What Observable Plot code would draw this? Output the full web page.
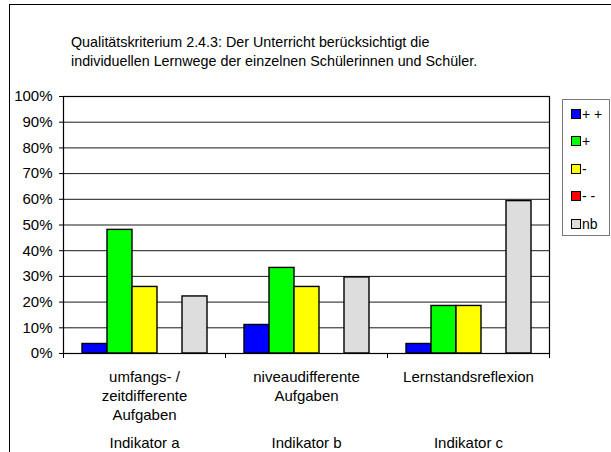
<!DOCTYPE html>
<html>
<head>
<meta charset="utf-8">
<script src="https://cdn.jsdelivr.net/npm/d3@7"></script>
<script src="https://cdn.jsdelivr.net/npm/@observablehq/plot@0.6"></script>
<style>
  html, body { margin: 0; padding: 0; background: #fff; }
  #wrap { position: relative; width: 611px; height: 452px; overflow: hidden; font-family: "Liberation Sans", Arial, sans-serif; }
  #border { position: absolute; left: 9px; top: 4px; width: 800px; height: 800px; border-left: 1px solid #000; border-top: 1px solid #000; }
  #chart { position: absolute; left: 0; top: 0; }
  #title { position: absolute; left: 71px; top: 33px; font-size: 14.3px; line-height: 19px; color: #000; white-space: nowrap; }
  #legend { position: absolute; left: 562px; top: 99px; width: 48px; height: 137px; border: 1px solid #777; background: #fff; box-sizing: border-box; }
  .item { position: absolute; left: 8px; height: 14px; font-size: 14px; line-height: 14px; white-space: nowrap; }
  .sw { display: inline-block; width: 8px; height: 8px; border: 1px solid #000; vertical-align: middle; margin-right: 1px; position: relative; top: -1px; }
</style>
</head>
<body>
<div id="wrap">
  <div id="border"></div>
  <div id="chart"></div>
  <div id="title">Qualitätskriterium 2.4.3: Der Unterricht berücksichtigt die<br>individuellen Lernwege der einzelnen Schülerinnen und Schüler.</div>
  <div id="legend"></div>
</div>
<script>
// ---- data ----
const indicators = ["Indikator a", "Indikator b", "Indikator c"];
const categories = ["umfangs- /\nzeitdifferente\nAufgaben", "niveaudifferente\nAufgaben", "Lernstandsreflexion"];
const seriesNames = ["+ +", "+", "-", "- -", "nb"];
const seriesColors = ["#0000ff", "#00ff00", "#ffff00", "#ff0000", "#dddddd"];
const valuesPlusPlus   = [0.037, 0.111, 0.037];
const valuesPlus       = [0.481, 0.333, 0.185];
const valuesMinus      = [0.259, 0.259, 0.185];
const valuesMinusMinus = [0, 0, 0];
const valuesNb         = [0.222, 0.296, 0.593];
const yTicks = [0, 0.1, 0.2, 0.3, 0.4, 0.5, 0.6, 0.7, 0.8, 0.9, 1.0];
const yTickLabels = ["0%", "10%", "20%", "30%", "40%", "50%", "60%", "70%", "80%", "90%", "100%"];

const seriesValues = [valuesPlusPlus, valuesPlus, valuesMinus, valuesMinusMinus, valuesNb];
const table = [];
indicators.forEach((ind, i) => {
  seriesNames.forEach((s, j) => {
    table.push({indicator: ind, series: s, value: seriesValues[j][i]});
  });
});

// ---- layout ----
const W = 611, H = 452, mL = 63, mR = 62, mT = 96, mB = 99;
const step = (W - mL - mR) / indicators.length;

const chart = Plot.plot({
  width: W, height: H,
  marginLeft: mL, marginRight: mR, marginTop: mT, marginBottom: mB,
  style: {fontFamily: "'Liberation Sans', Arial, sans-serif", fontSize: "15px", color: "#000", background: "transparent", overflow: "visible"},
  fx: {domain: indicators, padding: 0},
  x: {domain: seriesNames, paddingInner: 0, paddingOuter: 0.74, axis: null},
  y: {domain: [0, 1]},
  color: {domain: seriesNames, range: seriesColors},
  marks: [
    Plot.gridY(yTicks, {stroke: "#000", strokeOpacity: 0.9}),
    Plot.barY(table, {fx: "indicator", x: "series", y: "value", fill: "series", stroke: "#000", strokeWidth: 1.4}),
    Plot.frame({facet: "super", stroke: "#000", strokeWidth: 1.2}),
    Plot.axisY(yTicks, {tickFormat: d => yTickLabels[yTicks.indexOf(d)], tickSize: 4, tickPadding: 7, label: null, fontSize: 15}),
    Plot.axisFx({anchor: "bottom", tickSize: 0, tickPadding: 15, tickFormat: d => categories[indicators.indexOf(d)], lineHeight: 1.27, label: null, fontSize: 15}),
    Plot.axisFx({anchor: "bottom", tickSize: 0, tickPadding: 84, tickFormat: d => d, label: null, fontSize: 15}),
    Plot.axisFx({anchor: "bottom", tickSize: 5, tickFormat: () => "", dx: -step / 2, label: null}),
    Plot.axisFx([indicators[indicators.length - 1]], {anchor: "bottom", tickSize: 5, tickFormat: () => "", dx: step / 2, label: null})
  ]
});
document.getElementById("chart").appendChild(chart);

// ---- legend ----
const legend = document.getElementById("legend");
const rowCenters = [14, 41, 69, 96, 124];
seriesNames.forEach((s, i) => {
  const it = document.createElement("div");
  it.className = "item";
  it.style.top = (rowCenters[i] - 7) + "px";
  it.innerHTML = `<span class="sw" style="background:${seriesColors[i]}"></span>${s}`;
  legend.appendChild(it);
});
</script>
</body>
</html>
